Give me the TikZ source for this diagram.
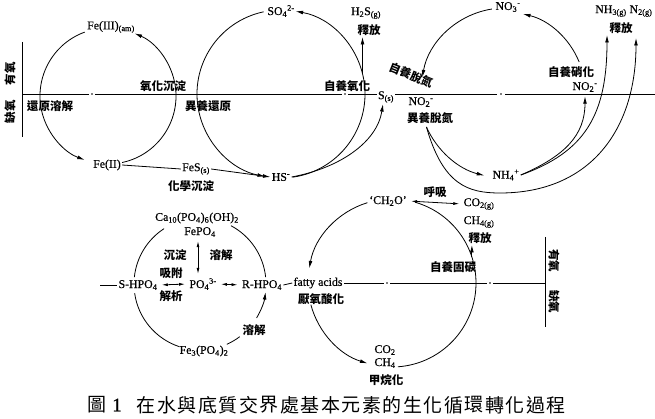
\documentclass[tikz,border=0pt]{standalone}
\usepackage{fontspec}
\setmainfont{Liberation Serif}
\newfontfamily\chemfont{Liberation Serif}[FakeBold=0.6]
\newfontfamily\cjk{Noto Sans CJK TC}
\usetikzlibrary{arrows.meta,calc}
\begin{document}
\begin{tikzpicture}[x=1pt,y=-1pt,line width=0.8pt,
  lab/.style={font=\cjk\bfseries\fontsize{11.5}{13}\selectfont, inner sep=1pt},
  chem/.style={font=\chemfont\fontsize{11.8}{13}\selectfont, inner sep=1pt},
  captxt/.style={font=\cjk\fontsize{19}{21}\selectfont, inner sep=0pt},
  arr/.style={-{Latex[length=7.5pt,width=3.8pt]}},
  darr/.style={{Latex[length=6pt,width=3pt]}-{Latex[length=6pt,width=3pt]}, shorten <=3pt, shorten >=3pt},
  dotm/.style={fill=black}]
\useasboundingbox (0,0) rectangle (655,419);
% circle centres
\coordinate (feC) at (108,96);
\coordinate (sC) at (281,94);
\coordinate (nC) at (505,92);
\coordinate (pC) at (200,284);
\coordinate (cC) at (392,283);
% top boundary line
\coordinate (tA) at (22,94); \coordinate (tB) at (89,94);
\coordinate (tC) at (95,94); \coordinate (tD) at (342,94);
\coordinate (tE) at (348,94); \coordinate (tF) at (497,94);
\coordinate (tG) at (505,94); \coordinate (tH) at (655,94);
\draw (tA) -- (tB) (tC) -- (tD) (tE) -- (tF) (tG) -- (tH);
\fill[dotm] (92,94) circle (0.9) (345,94) circle (0.9) (501,94) circle (0.9);
% left bar
\coordinate (lbT) at (22,42); \coordinate (lbB) at (22,137);
\draw (lbT) -- (lbB);
\node[lab, rotate=90] (oxL) at (10,74) {有氧};
\node[lab, rotate=90] (anL) at (10,112) {缺氧};
% right bar
\coordinate (rbT) at (545,237); \coordinate (rbB) at (545,327);
\draw (rbT) -- (rbB);
\node[lab, rotate=-90] (oxR) at (554,261) {有氧};
\node[lab, rotate=-90] (anR) at (554,302) {缺氧};

% ---------- nodes ----------
\node[chem] (fe3) at (111,27) {Fe(III)\textsubscript{(am)}};
\node[chem] (fe2) at (107,165) {Fe(II)};
\node[chem] (fes) at (196,169) {FeS\textsubscript{(s)}};
\node[chem] (so4) at (281,11) {SO\textsubscript{4}\textsuperscript{2-}};
\node[chem] (hs) at (281,177) {HS\textsuperscript{-}};
\node[chem] (h2s) at (366,13) {H\textsubscript{2}S\textsubscript{(g)}};
\node[chem, fill=white] (ss) at (386,97) {S\textsubscript{(s)}};
\node[chem] (no2a) at (421,102) {NO\textsubscript{2}\textsuperscript{-}};
\node[chem] (no3) at (508,7) {NO\textsubscript{3}\textsuperscript{-}};
\node[chem] (nh4) at (506,175) {NH\textsubscript{4}\textsuperscript{+}};
\node[chem] (no2b) at (585,87) {NO\textsubscript{2}\textsuperscript{-}};
\node[chem] (nh3) at (611,11) {NH\textsubscript{3(g)}};
\node[chem] (n2) at (641,11) {N\textsubscript{2(g)}};
\node[chem] (ca) at (197,218) {Ca\textsubscript{10}(PO\textsubscript{4})\textsubscript{6}(OH)\textsubscript{2}};
\node[chem] (fepo4) at (200,232) {FePO\textsubscript{4}};
\node[chem] (po4) at (203,284) {PO\textsubscript{4}\textsuperscript{3-}};
\node[chem] (shpo4) at (138,285) {S-HPO\textsubscript{4}};
\node[chem] (rhpo4) at (262,285) {R-HPO\textsubscript{4}};
\node[chem] (fatty) at (318,283) {fatty acids};
\node[chem] (fe3po4) at (204,351) {Fe\textsubscript{3}(PO\textsubscript{4})\textsubscript{2}};
\node[chem] (ch2o) at (388,201) {‘CH\textsubscript{2}O’};
\node[chem] (co2g) at (479,204) {CO\textsubscript{2(g)}};
\node[chem] (ch4g) at (479,222) {CH\textsubscript{4(g)}};
\node[chem] (co2) at (385,350) {CO\textsubscript{2}};
\node[chem] (ch4) at (385,363) {CH\textsubscript{4}};

\node[lab] (oxppt) at (163,86) {氧化沉淀};
\node[lab] (redsol) at (50,106) {還原溶解};
\node[lab] (hetred) at (208,106) {異養還原};
\node[lab] (chemppt) at (191,186) {化學沉淀};
\node[lab] (rel1) at (369,30) {釋放};
\node[lab] (autox) at (347,86) {自養氧化};
\node[lab, rotate=-22] (autden) at (411,75) {自養脫氮};
\node[lab] (hetden) at (430,118) {異養脫氮};
\node[lab] (nitri) at (571,72) {自養硝化};
\node[lab] (rel2) at (621,28) {釋放};
\node[lab] (pre) at (175,255) {沉淀};
\node[lab] (dis1) at (221,255) {溶解};
\node[lab] (ads) at (171,273) {吸附};
\node[lab] (des) at (171,296) {解析};
\node[lab] (dis2) at (254,330) {溶解};
\node[lab] (anac) at (321,299) {厭氧酸化};
\node[lab] (resp) at (435,192) {呼吸};
\node[lab] (rel3) at (480,238) {釋放};
\node[lab] (autc) at (453,267) {自養固碳};
\node[lab] (meth) at (386,380) {甲烷化};

% bottom boundary line
\coordinate (bB) at (384,283); \coordinate (bC) at (390,283);
\coordinate (bD) at (487,283); \coordinate (bE) at (493,283);
\draw (fatty.east) -- (bB) (bC) -- (bD) (bE) -- (rbT |- bE);
\fill[dotm] (387,283) circle (0.9) (490,283) circle (0.9);

% ---------- Fe cycle ----------
\draw[arr] ($(feC)+(250:68)$) arc[start angle=250, end angle=110, radius=68];
\draw[arr] ($(feC)+(78:68)$) arc[start angle=78, end angle=-67, radius=68];
\draw (fe2.east) -- (fes.west);
\draw[arr] (fes.east) -- (hs.west);

% ---------- S cycle ----------
\draw[arr] ($(sC)+(258:84)$) arc[start angle=258, end angle=101, radius=84];
\draw[arr] ($(sC)+(82:84)$) arc[start angle=82, end angle=-80, radius=84];
\coordinate (hb) at ($(sC)+(-14:84)$);
\draw[arr] (hb) -- (hb |- rel1.south);
\draw[arr] (hs.east) .. controls (340,168) and (377,142) .. ([xshift=-3pt]ss.south);

% ---------- N cycle ----------
\draw[arr] ($(nC)+(261:84)$) arc[start angle=261, end angle=190, radius=84];
\draw[arr] ($(nC)+(-22:80)$) arc[start angle=-22, end angle=-77, radius=80];
\draw[arr] ($(nC)+(156:86)$) arc[start angle=156, end angle=104, radius=86];
\coordinate (nlow) at (500,193);
\coordinate (n2tip) at (636,38);
\coordinate (nh3tip) at (607,35);
\draw[arr] ($(nC)+(156:86)$) .. controls (443,185) and (468,193) .. (nlow)
   .. controls (590,193) and (636,130) .. (n2tip);
\draw[arr] (nh4.east) .. controls (585,152) and (607,115) .. (nh3tip);
\draw[arr] (nh4.east) .. controls (565,156) and (585,135) .. ([yshift=-3pt]no2b.south);

% ---------- P cycle ----------
\draw ($(pC)+(237:66)$) arc[start angle=237, end angle=186, radius=66];
\draw ($(pC)+(172:66)$) arc[start angle=172, end angle=108, radius=66];
\draw ($(pC)+(298:66)$) arc[start angle=298, end angle=354, radius=66];
\draw ($(pC)+(66:66)$) arc[start angle=66, end angle=53, radius=66];
\draw[arr] ($(pC)+(31:66)$) arc[start angle=31, end angle=7, radius=66];
\draw[darr] ([xshift=-2pt]fepo4.south) -- ([xshift=-2pt]fepo4.south |- po4.north);
\draw[darr] (shpo4.east) -- (po4.west);
\draw[darr] (po4.east) -- (rhpo4.west);
\draw (rhpo4.east) -- (fatty.west);
\coordinate (pl) at (100,285);
\draw (pl) -- (shpo4.west);

% ---------- C cycle ----------
\draw[arr] ($(cC)+(253:84)$) arc[start angle=253, end angle=190, radius=84];
\draw[arr] ($(cC)+(165:84)$) arc[start angle=165, end angle=107, radius=84];
\draw ($(cC)+(86:84)$) arc[start angle=86, end angle=-74, radius=84];
\draw[darr] (ch2o.east) -- (co2g.west);
\coordinate (cb) at ($(cC)+(-18:84)$);
\draw[arr] (cb) -- (cb |- rel3.south);

% ---------- caption ----------
\node[captxt] (capfig) at (96.5,405) {圖};
\node[font=\chemfont\fontsize{19}{21}\selectfont, inner sep=0pt] (capnum) at (117,405) {1};
\foreach \c [count=\i from 0] in {在,水,與,底,質,交,界,處,基,本,元,素,的,生,化,循,環,轉,化,過,程}
  \node[captxt] (cap\i) at (146+20.5*\i,405) {\c};
\end{tikzpicture}
\end{document}
